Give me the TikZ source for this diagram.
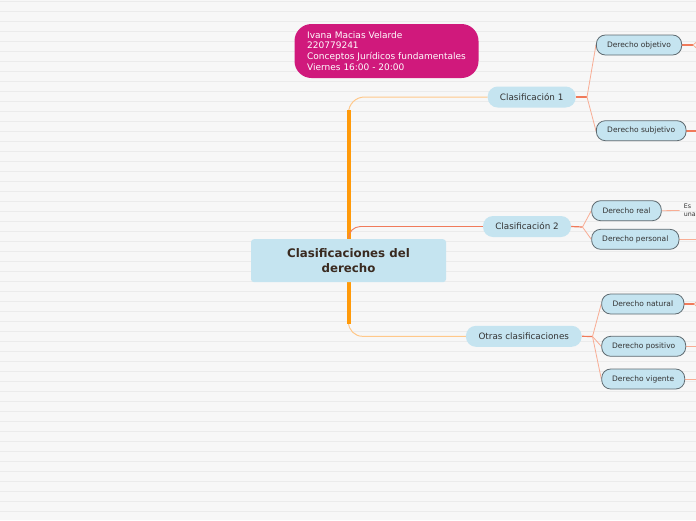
\documentclass[tikz,border=0pt]{standalone}
\usepackage{fontspec}
\setmainfont{DejaVu Sans}
\usetikzlibrary{positioning,calc,backgrounds}

\definecolor{paper}{HTML}{F7F7F7}
\definecolor{ruling}{HTML}{EBEBEB}
\definecolor{boxblue}{HTML}{C5E4F0}
\definecolor{notepink}{HTML}{D0197C}
\definecolor{trunkorange}{HTML}{FF9A0A}
\definecolor{lightorange}{HTML}{FFC88A}
\definecolor{salmon}{HTML}{F8AD94}
\definecolor{redline}{HTML}{F07A5A}
\definecolor{inkbrown}{HTML}{3A2A20}
\definecolor{edgegray}{HTML}{5E6A70}
\definecolor{textgray}{HTML}{333333}

\begin{document}
\begin{tikzpicture}[
    x=1pt, y=-1pt,
    root/.style={fill=boxblue, rounded corners=3pt, minimum width=195pt, minimum height=43pt, align=center, font=\fontsize{11.8}{15}\selectfont\bfseries, text=inkbrown},
    topic/.style={fill=boxblue, rounded corners=10pt, minimum height=21pt, inner xsep=2pt, font=\fontsize{8.8}{10}\selectfont, text=textgray},
    leaf/.style={draw=edgegray, line width=0.8pt, fill=boxblue, rounded corners=9pt, minimum height=20pt, inner xsep=2pt, font=\fontsize{7.5}{9}\selectfont, text=textgray},
    note/.style={fill=notepink, rounded corners=17pt, minimum width=184pt, minimum height=54pt, align=left, text=white, font=\fontsize{9}{10.9}\selectfont},
    aside/.style={anchor=west, inner sep=0pt, align=left, font=\fontsize{6.3}{8.2}\selectfont, text=textgray},
    trunk/.style={trunkorange, line width=4pt},
    branch/.style={lightorange, line width=1pt},
    twig/.style={salmon, line width=0.8pt},
    stem/.style={redline, line width=1.2pt}
]
\useasboundingbox (0,0) rectangle (696,520);
\begin{scope}[on background layer]
  \fill[paper] (0,0) rectangle (696,520);
  \foreach \y in {1,11,...,511}
    \draw[ruling, line width=0.7pt] (0,\y) -- (696,\y);
\end{scope}

\node[note] (info) at (386.5,51) {Ivana Macias Velarde\\220779241\\Conceptos Jurídicos fundamentales\\Viernes 16:00 - 20:00};
\node[root] (root) at (348.5,260.7) {Clasificaciones del\\derecho};

\node[topic, minimum width=88pt] (cl1) at (531.7,97) {Clasificación 1};
\node[topic, minimum width=88pt] (cl2) at (527,226.5) {Clasificación 2};
\node[topic, minimum width=115.7pt] (cl3) at (523.8,336.3) {Otras clasificaciones};

\node[leaf, minimum width=85.3pt] (obj) at (639,45) {Derecho objetivo};
\node[leaf, minimum width=89.7pt] (subj) at (641.2,130.7) {Derecho subjetivo};
\node[leaf, minimum width=69.6pt] (real) at (626.5,210.7) {Derecho real};
\node[leaf, minimum width=87.3pt] (pers) at (635.3,239.3) {Derecho personal};
\node[leaf, minimum width=82.3pt] (nat) at (642.8,304) {Derecho natural};
\node[leaf, minimum width=84pt] (pos) at (643.7,346.3) {Derecho positivo};
\node[leaf, minimum width=83pt] (vig) at (643.2,379) {Derecho vigente};
\node[aside] (realnote) at (683.6,210.5) {Es\\una};

\coordinate (f1) at (587,97);
\coordinate (f2) at (582.5,227);
\coordinate (f3) at (592.5,336.5);
\coordinate (objfork) at (693,45);
\coordinate (objup) at (702,37);
\coordinate (objdown) at (702,53);
\coordinate (natfork) at (694,304);
\coordinate (natup) at (702,297);
\coordinate (natdown) at (702,311);
\coordinate (subjend) at (700,130.7);
\coordinate (persend) at (700,239.3);
\coordinate (posend) at (700,346.3);
\coordinate (vigend) at (700,379);

\begin{scope}[on background layer]
\draw[branch, rounded corners=16pt] (root.center) |- (cl1.west);
\draw[branch, rounded corners=14pt] (root.center) |- (cl3.west);
\draw[trunk] ($(root.center |- cl1.west)+(0,13)$) -- ($(root.center |- cl3.west)+(0,-12)$);
\draw[stem, line width=0.9pt, rounded corners=12pt] ($(root.center |- cl2.west)+(0,12)$) |- (cl2.west);

\draw[stem] (cl1.east) -- (f1);
\draw[twig] (f1) -- (obj.west);
\draw[twig] (f1) -- (subj.west);
\draw[stem] (cl2.east) -- (f2);
\draw[twig] (f2) -- (real.west);
\draw[twig] (f2) -- (pers.west);
\draw[stem] (cl3.east) -- (f3);
\draw[twig] (f3) -- (nat.west);
\draw[twig] (f3) -- (pos.west);
\draw[twig] (f3) -- (vig.west);

\draw[stem] (obj.east) -- (objfork);
\draw[twig] (objfork) -- (objup);
\draw[twig] (objfork) -- (objdown);
\draw[stem, line width=2pt] (subj.east) -- (subjend);
\draw[twig] (real.east) -- ([xshift=-4pt]realnote.west);
\draw[twig] (pers.east) -- (persend);
\draw[stem] (nat.east) -- (natfork);
\draw[twig] (natfork) -- (natup);
\draw[twig] (natfork) -- (natdown);
\draw[twig] (pos.east) -- (posend);
\draw[twig] (vig.east) -- (vigend);
\end{scope}
\end{tikzpicture}
\end{document}
